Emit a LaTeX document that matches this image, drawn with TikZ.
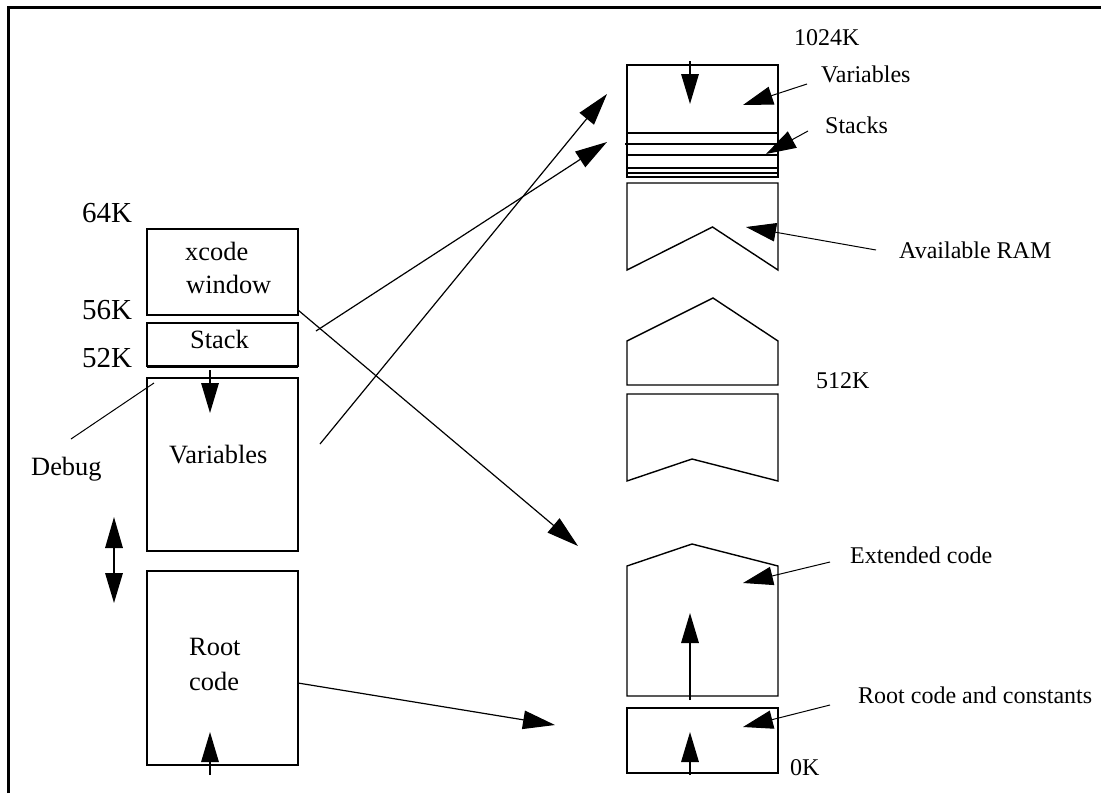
\documentclass[tikz,border=0pt]{standalone}
\usepackage{fontspec}
\setmainfont{Liberation Serif}
\usetikzlibrary{arrows.meta}
\newcommand{\fsz}[1]{\fontsize{#1}{#1}\selectfont}
\tikzset{
  x=1pt,y=-1pt,
  frameline/.style={line width=3.2pt,line cap=butt},
  membox/.style={draw=black,line width=1.7pt,line join=miter},
  memshape/.style={draw=black,line width=1.4pt,line join=miter},
  sepline/.style={line width=1.5pt},
  leader/.style={line width=1pt,-{Triangle[length=30pt,width=18.5pt]}},
  bigarrow/.style={line width=1.2pt,-{Triangle[length=32pt,width=18.5pt]}},
  vert/.style={line width=1.6pt,-{Triangle[length=30pt,width=17.5pt]}},
  plain/.style={line width=1pt},
  lbl/.style={anchor=base west,inner sep=0pt,text=black},
  big/.style={lbl,font=\fsz{29}},
  mid/.style={lbl,font=\fsz{26.4}},
  small/.style={lbl,font=\fsz{24}},
}
\begin{document}
\begin{tikzpicture}
\useasboundingbox (0,0) rectangle (1101,793);
% frame
\coordinate (fbl) at (8.6,793); \coordinate (ftl) at (8.6,7.3); \coordinate (ftr) at (1101,7.3);
\draw[frameline] (fbl) -- (ftl) -- (ftr);
% left boxes
\draw[membox] (147,229) rectangle (298,315);
\draw[membox] (147,323) rectangle (298,366);
\coordinate (stkl) at (147,366.5); \coordinate (stkr) at (298,366.5);
\draw[line width=2.6pt] (stkl) -- (stkr);
\draw[membox] (147,378) rectangle (298,551);
\draw[membox] (147,571) rectangle (298,765);
% left labels
\node[big] (l64) at (82,222) {64K};
\node[big] (l56) at (82,319) {56K};
\node[big] (l52) at (82,367) {52K};
\node[mid] (lx) at (185,260) {xcode};
\node[mid] (lw) at (186,293) {window};
\node[mid] (ls) at (190,348) {Stack};
\node[mid] (lv) at (169,463) {Variables};
\node[mid] (ld) at (31,475) {Debug};
\node[mid] (lr) at (189,655) {Root};
\node[mid] (lc) at (189,690) {code};
% left arrows
\coordinate (a1s) at (210,370); \coordinate (a1e) at (210,413);
\draw[vert] (a1s) -- (a1e);
\coordinate (a2t) at (114,517); \coordinate (a2b) at (114,603);
\draw[line width=1.6pt,{Triangle[length=31pt,width=17.5pt]}-{Triangle[length=30pt,width=17.5pt]}] (a2t) -- (a2b);
\coordinate (a3s) at (210,775); \coordinate (a3e) at (210,732);
\draw[vert] (a3s) -- (a3e);
\coordinate (dbs) at (71,439); \coordinate (dbe) at (154,383);
\draw[plain] (dbs) -- (dbe);
% right top box
\draw[membox] (627,65) rectangle (778,177);
\draw[sepline] (627,133) -- (778,133);
\draw[sepline] (625,144) -- (778,144);
\draw[sepline] (627,155) -- (778,155);
\draw[sepline] (627,168) -- (778,168);
\draw[sepline] (627,173) -- (778,173);
% chevrons
\draw[memshape] (627,270) -- (627,183) -- (778,183) -- (778,270) -- (712.5,227) -- cycle;
\draw[memshape] (627,385) -- (627,341) -- (713,298) -- (778,341) -- (778,385) -- cycle;
\draw[memshape] (627,481) -- (627,394) -- (778,394) -- (778,481) -- (692,459) -- cycle;
\draw[memshape] (627,696) -- (627,566) -- (692,544) -- (778,566) -- (778,696) -- cycle;
\draw[membox] (627,708) rectangle (778,773);
% right labels
\node[small] (r1024) at (794,45) {1024K};
\node[small] (rv) at (821,82) {Variables};
\node[small] (rs) at (825,133) {Stacks};
\node[small] (ra) at (899,258) {Available RAM};
\node[small] (r512) at (816,388) {512K};
\node[small] (re) at (850,563) {Extended code};
\node[small] (rr) at (858,703) {Root code and constants};
\node[small] (r0) at (790,775) {0K};
% right vertical arrows
\coordinate (b1s) at (690,61); \coordinate (b1e) at (690,104);
\draw[vert] (b1s) -- (b1e);
\coordinate (b2s) at (690,700); \coordinate (b2e) at (690,613);
\draw[vert] (b2s) -- (b2e);
\coordinate (b3s) at (690,775); \coordinate (b3e) at (690,732);
\draw[vert] (b3s) -- (b3e);
% leaders
\coordinate (c1s) at (807,84); \coordinate (c1e) at (743,105);
\draw[leader] (c1s) -- (c1e);
\coordinate (c2s) at (808,131); \coordinate (c2e) at (766,154);
\draw[leader] (c2s) -- (c2e);
\coordinate (c3s) at (876,250); \coordinate (c3e) at (746,227);
\draw[leader] (c3s) -- (c3e);
\coordinate (c4s) at (830,562); \coordinate (c4e) at (743,583);
\draw[leader] (c4s) -- (c4e);
\coordinate (c5s) at (830,705); \coordinate (c5e) at (743,727);
\draw[leader] (c5s) -- (c5e);
% long arrows
\coordinate (d1s) at (298,310); \coordinate (d1e) at (578,546);
\draw[bigarrow] (d1s) -- (d1e);
\coordinate (d2s) at (316,331); \coordinate (d2e) at (607,142);
\draw[bigarrow] (d2s) -- (d2e);
\coordinate (d3s) at (320,444); \coordinate (d3e) at (607,94);
\draw[bigarrow] (d3s) -- (d3e);
\coordinate (d4s) at (298,683); \coordinate (d4e) at (555,725);
\draw[bigarrow] (d4s) -- (d4e);
\end{tikzpicture}
\end{document}
